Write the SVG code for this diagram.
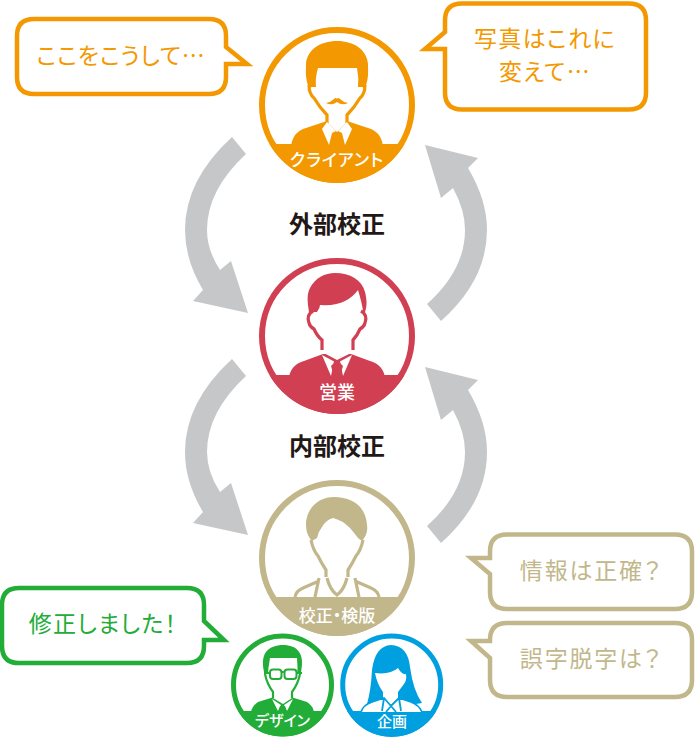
<svg xmlns="http://www.w3.org/2000/svg" width="695" height="737" viewBox="0 0 695 737">
<style>
text{font-family:"Noto Sans CJK JP","Noto Sans",sans-serif;text-anchor:middle;font-feature-settings:"palt"}
.arr{fill:#c5c7c9}
.ring{fill:#fff;stroke-width:6}
.sm{stroke-width:5}
.lab{fill:#fff;font-size:17px;font-weight:500}
.lsm{fill:#fff;font-size:15px;font-weight:500}
.cap{fill:#231815;font-size:24px;font-weight:700}
.bub{fill:#fff;stroke-width:4.500}
.bt{font-size:23px;font-weight:400;letter-spacing:1.300px}
.ln{fill:none;stroke-width:3.200}
.o{stroke:#f39800}.ot{fill:#f39800}
.r{stroke:#d13f53}.rt{fill:#d13f53}
.k{stroke:#c2b78b}.kt{fill:#c2b78b}
.g{stroke:#22ac38}.gt{fill:#22ac38}
.b{stroke:#00a0e0}.bf{fill:#00a0e0}
.w{fill:#fff}
</style>
<defs>
<path id="arrL" class="arr" d="M232 137L246 154Q207 190 207 230Q207 250 220 270L231 261L248 313L193 301L203 290Q185 260 185 230Q185 180 232 137Z"/>
<path id="arrR" class="arr" d="M427 304L441 321Q487 280 487 230Q487 200 468 168L478 158L425 145L441 198L453 188Q465 210 465 230Q465 270 427 304Z"/>
</defs>
<g id="connectors">
<use href="#arrL"/><use href="#arrR"/>
<use href="#arrL" y="222"/><use href="#arrR" y="222"/>
</g>
<g id="label-external"><text class="cap" x="337" y="233">外部校正</text></g>
<g id="label-internal"><text class="cap" x="337" y="455">内部校正</text></g>
<g id="client">
<circle class="ring o" cx="337" cy="105" r="75"/>
<path class="ot" d="M269.500 144H404.500A78 78 0 0 1 269.500 144Z"/>
<path class="ot" d="M291 146C293 133 300 130 306 128L327 121H347L368 128C374 130 381 133 383 146Z"/>
<path class="ot" d="M309 88C305 78 306 72 306 64C307 50 320 41 337 41C354 41 367 50 368 64C368 72 369 78 365 88Z"/>
<path class="w" d="M318 68H357Q359 78 358 87L363 87Q362 96 356 100Q350 110 347 115V122L337 132L327 122V115Q324 110 318 100Q312 96 311 87L316 87Q315 78 318 68Z"/>
<path class="ln o" d="M309 85Q309 94 314 98Q320 108 327 115V123M365 85Q365 94 360 98Q354 108 347 115V123"/>
<path class="ot" d="M326 103Q331 102 334 99Q336 97 337 99Q338 97 340 99Q343 102 348 103Q342 106 337 102Q332 106 326 103Z"/>
<path class="w" d="M327 122L336 131L332 133L329 145L322 129ZM347 122L338 131L342 133L345 145L352 129Z"/>
<path class="ot" d="M333 133H341L343 145H331Z"/>
<text class="lab" x="337" y="166" style="letter-spacing:1px">クライアント</text>
</g>
<g id="sales">
<circle class="ring r" cx="337" cy="336" r="75"/>
<path class="rt" d="M269.500 375H404.500A78 78 0 0 1 269.500 375Z"/>
<path class="rt" d="M289 377C291 366 298 363 304 361L323 354H351L370 361C376 363 383 366 385 377Z"/>
<path class="rt" d="M309 312C307 300 307 294 310 288C315 278 325 273 335 273C350 273 362 280 365 292C367 300 367 306 365 312Z"/>
<path class="w" d="M314 318Q316 312 317 312Q320 308 320 305Q336 306 345 301Q353 297 358 290Q362 303 363 311L366 318Q364 326 360 328Q358 335 353 340V352L337 360L322 352V340Q316 335 314 328Q309 322 314 318Z"/>
<path class="ln r" d="M313 311Q306 315 309 323Q310 327 314 329Q317 336 322 340V350M361 311Q368 315 365 323Q364 327 360 329Q357 336 353 340V350"/>
<path class="w" d="M322 355L335 362L331 366L334 376H331ZM352 355L339 362L343 366L340 376H343Z"/>
<path class="rt" d="M334 361H340L343 376H331Z"/>
<text class="lab" x="337" y="399" style="font-size:18px">営業</text>
</g>
<g id="proofreader">
<circle class="ring k" cx="337" cy="558" r="75"/>
<path class="kt" d="M269.500 597H404.500A78 78 0 0 1 269.500 597Z"/>
<path class="kt" d="M312 541C306 534 306 528 306 522C308 506 320 497 334 497C354 497 366 508 367 525C368 532 366 536 362 541L358 538Q355 534 350 528Q342 520 333 518Q326 520 322 527Q318 532 317 538Z"/>
<path class="ln k" d="M311 540Q313 550 318 556Q322 564 326 570V577M363 540Q361 550 356 556Q352 564 348 570V577M295 597Q296 591 303 588L319 581M379 597Q378 591 371 588L355 581M319 578L315 597M355 578L359 597M327 578Q330 590 337 595Q344 590 347 578"/>
<text class="lab" x="337" y="622">校正・検版</text>
</g>
<g id="designer">
<circle class="ring g sm" cx="282.500" cy="685" r="49"/>
<path class="gt" d="M238 711H327A51.500 51.500 0 0 1 238 711Z"/>
<path class="gt" d="M251 712Q252 706 258 702L274 697H291L307 702Q313 706 314 712Z"/>
<path class="gt" d="M264 672C262 662 263 656 266 652C270 647 276 645 283 645C290 645 296 647 299 652C302 656 303 662 301 672Z"/>
<path class="w" d="M270 658H297Q298 668 297 676Q293 686 292 690V698L283 704L273 698V690Q270 686 268 676Q268 668 270 658Z"/>
<path class="ln g" style="stroke-width:2.200" d="M265 674Q267 684 273 692V698M300 674Q298 684 292 692V698"/>
<rect x="270" y="669.500" width="11.500" height="9.500" rx="3" class="w g" stroke-width="2"/>
<rect x="284.500" y="669.500" width="12" height="9.500" rx="3" class="w g" stroke-width="2"/>
<path class="ln g" style="stroke-width:2" d="M264 673H270M281.500 672H284.500M296.500 673H302"/>
<path class="w" d="M272 699L281 705L278 711ZM293 699L284 705L287 711Z"/>
<path class="gt" d="M280 706H285L287 712H278Z"/>
<text class="lsm" x="282.500" y="726">デザイン</text>
</g>
<g id="planner">
<circle class="ring b sm" cx="391.700" cy="685" r="49"/>
<path class="bf" d="M347 711H436.400A51.500 51.500 0 0 1 347 711Z"/>
<path class="bf" d="M367 704Q371 690 372 670Q375 646 391 645Q408 646 410 667Q413 690 422 703L404 706H382Z"/>
<path class="w" d="M375 673Q390 675 398 668Q402 675 406 674Q407 680 404 684L398 692V698L391 705L383 698V692Q377 684 375 673Z"/>
<path class="w" d="M361 712Q363 705 372 702L384 698L391 706L399 698L411 702Q419 705 422 712Z"/>
<path class="ln b" style="stroke-width:1.800" d="M361 712Q363 705 372 702L384 698L391 706L399 698L411 702Q419 705 422 712M384 698L382 711M399 698L401 711M391 706L386 712M391 706L396 712"/>
<text class="lsm" x="392" y="727">企画</text>
</g>
<g id="bubble-client-1">
<path class="bub o" d="M34 19H209Q226 19 226 36V47L247 64H226V77Q226 94 209 94H34Q17 94 17 77V36Q17 19 34 19Z"/>
<text class="bt ot" x="121" y="64" style="letter-spacing:.8px">ここをこうして…</text>
</g>
<g id="bubble-client-2">
<path class="bub o" d="M462 3.500H629Q646 3.500 646 20.500V92.500Q646 109.500 629 109.500H462Q445 109.500 445 92.500V49H425L445 32V20.500Q445 3.500 462 3.500Z"/>
<text class="bt ot" x="545" y="47">写真はこれに</text>
<text class="bt ot" x="545" y="80">変えて…</text>
</g>
<g id="bubble-check-1">
<path class="bub k" d="M507 534.500H675Q692 534.500 692 551.500V592Q692 609 675 609H507Q490 609 490 592V574L471 558H490V551.500Q490 534.500 507 534.500Z"/>
<text class="bt kt" x="591" y="579" style="letter-spacing:1.800px">情報は正確？</text>
</g>
<g id="bubble-check-2">
<path class="bub k" d="M507 623H675Q692 623 692 640V680Q692 697 675 697H507Q490 697 490 680V658L471 641H490V640Q490 623 507 623Z"/>
<text class="bt kt" x="591" y="667" style="letter-spacing:1.800px">誤字脱字は？</text>
</g>
<g id="bubble-fixed">
<path class="bub g" d="M19 588H187Q204 588 204 605V621L224 640H204V646Q204 663 187 663H19Q2 663 2 646V605Q2 588 19 588Z"/>
<text class="bt gt" x="103" y="632">修正しました！</text>
</g>
</svg>
